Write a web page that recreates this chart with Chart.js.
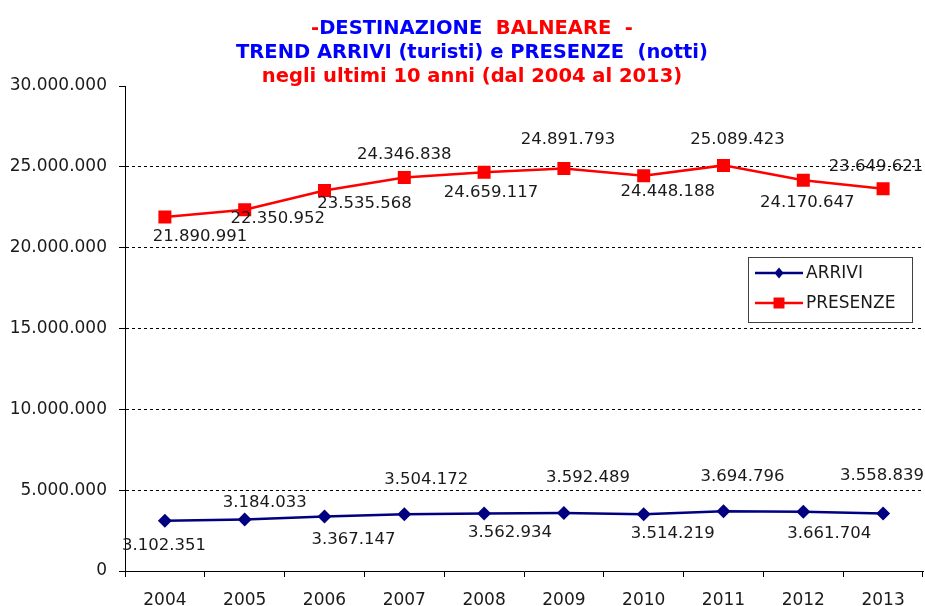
<!DOCTYPE html>
<html>
<head>
<meta charset="utf-8">
<script src="https://cdn.jsdelivr.net/npm/chart.js@4.4.0/dist/chart.umd.min.js"></script>
<style>
    body { margin: 0; background: #fff; overflow: hidden; }
    #wrap { position: relative; width: 925px; height: 606px; }
    #title {
        position: absolute; left: 0; top: 16px; width: 944px; text-align: center;
        font: bold 19.5px "DejaVu Sans", sans-serif; line-height: 24px; white-space: pre;
    }
    .b { color: #0000ff; }
    .r { color: #ff0000; }
</style>
</head>
<body>
<div id="wrap">
    <canvas id="trendChart"></canvas>
    <div id="title"><span class="r">-</span><span class="b">DESTINAZIONE  </span><span class="r">BALNEARE  -</span>
<span class="b">TREND ARRIVI (turisti) e PRESENZE  (notti)</span>
<span class="r">negli ultimi 10 anni (dal 2004 al 2013)</span></div>
</div>
<script>
const years = ['2004', '2005', '2006', '2007', '2008', '2009', '2010', '2011', '2012', '2013'];
const arrivi = [3102351, 3184033, 3367147, 3504172, 3562934, 3592489, 3514219, 3694796, 3661704, 3558839];
const presenze = [21890991, 22350952, 23535568, 24346838, 24659117, 24891793, 24448188, 25089423, 24170647, 23649621];

// where each value label sits relative to its point (dx, dy in px)
const arriviLabelOffsets = [[-1, 25], [20, -17], [29, 23], [22, -35], [26, 19], [24, -35], [29, 20], [19, -35], [26, 22], [-1, -38]];
const presenzeLabelOffsets = [[35, 20], [33, 9], [40, 13], [0, -23], [7, 20], [4, -29], [24, 16], [14, -26], [4, 22], [-7, -22]];

const fmt = n => String(n).replace(/\B(?=(\d{3})+(?!\d))/g, '.');
const FONT = '"DejaVu Sans", sans-serif';

// value labels next to the points
const valueLabels = {
    id: 'valueLabels',
    afterDatasetsDraw(chart) {
        const ctx = chart.ctx;
        ctx.save();
        ctx.font = '16.5px ' + FONT;
        ctx.fillStyle = '#1a1a1a';
        ctx.textAlign = 'center';
        ctx.textBaseline = 'middle';
        chart.data.datasets.forEach((ds, i) => {
            const meta = chart.getDatasetMeta(i);
            meta.data.forEach((pt, j) => {
                const off = ds.labelOffsets[j];
                ctx.fillText(fmt(ds.data[j]), pt.x + off[0], pt.y + off[1]);
            });
        });
        ctx.restore();
    }
};

// boxed legend inside the plot
const legendBox = {
    id: 'legendBox',
    afterDraw(chart) {
        const ctx = chart.ctx;
        const x = 748, y = 257, w = 164, h = 65;
        ctx.save();
        ctx.fillStyle = '#fff';
        ctx.fillRect(x, y, w, h);
        ctx.strokeStyle = '#404040';
        ctx.lineWidth = 1;
        ctx.strokeRect(x + 0.5, y + 0.5, w, h);
        chart.data.datasets.forEach((ds, i) => {
            const ly = y + 16 + i * 30;
            ctx.strokeStyle = ds.borderColor;
            ctx.lineWidth = 2.5;
            ctx.beginPath();
            ctx.moveTo(x + 7, ly);
            ctx.lineTo(x + 55, ly);
            ctx.stroke();
            ctx.fillStyle = ds.borderColor;
            const cx = x + 31;
            ctx.beginPath();
            if (ds.pointStyle === 'rect') {
                ctx.rect(cx - 5.5, ly - 5.5, 11, 11);
            } else {
                ctx.moveTo(cx, ly - 5.5);
                ctx.lineTo(cx + 4.5, ly);
                ctx.lineTo(cx, ly + 5.5);
                ctx.lineTo(cx - 4.5, ly);
                ctx.closePath();
            }
            ctx.fill();
            ctx.fillStyle = '#1a1a1a';
            ctx.font = '17px ' + FONT;
            ctx.textBaseline = 'middle';
            ctx.fillText(ds.label, x + 58, ly + 1);
        });
        ctx.restore();
    }
};

new Chart(document.getElementById('trendChart'), {
    type: 'line',
    data: {
        labels: years,
        datasets: [{
            label: 'ARRIVI',
            data: arrivi,
            labelOffsets: arriviLabelOffsets,
            borderColor: '#000080',
            backgroundColor: '#000080',
            borderWidth: 2.5,
            pointStyle: 'rectRot',
            pointRadius: 7,
            pointBorderWidth: 0,
            tension: 0
        }, {
            label: 'PRESENZE',
            data: presenze,
            labelOffsets: presenzeLabelOffsets,
            borderColor: '#ff0000',
            backgroundColor: '#ff0000',
            borderWidth: 2.5,
            pointStyle: 'rect',
            pointRadius: 9.2,
            pointBorderWidth: 0,
            tension: 0
        }]
    },
    options: {
        responsive: true,
        maintainAspectRatio: false,
        animation: false,
        layout: { autoPadding: false, padding: { top: 86, left: 10, right: 2, bottom: 0 } },
        plugins: {
            legend: { display: false },
            title: { display: false },
            tooltip: { enabled: false }
        },
        scales: {
            x: {
                offset: true,
                grid: {
                    display: true,
                    drawOnChartArea: false,
                    drawTicks: true,
                    tickLength: 6,
                    tickColor: '#000',
                    offset: true
                },
                border: { display: true, color: '#000', width: 1 },
                ticks: { color: '#1a1a1a', font: { family: FONT, size: 17 }, padding: 13, maxRotation: 0 },
                afterFit: s => { s.paddingLeft = 0; s.paddingRight = 0; s.height = 35; }
            },
            y: {
                min: 0,
                max: 30000000,
                grid: {
                    color: c => (c.tick.value === 0 || c.tick.value === 30000000) ? 'rgba(0,0,0,0)' : '#000',
                    lineWidth: 1,
                    tickColor: '#000',
                    tickLength: 6,
                    tickBorderDash: []
                },
                border: { display: true, color: '#000', width: 1, dash: [3, 3] },
                ticks: {
                    stepSize: 5000000,
                    color: '#1a1a1a',
                    font: { family: FONT, size: 17 },
                    padding: 12,
                    callback: v => fmt(v)
                },
                afterFit: s => { s.width = 115; }
            }
        }
    },
    plugins: [valueLabels, legendBox]
});
</script>
</body>
</html>
